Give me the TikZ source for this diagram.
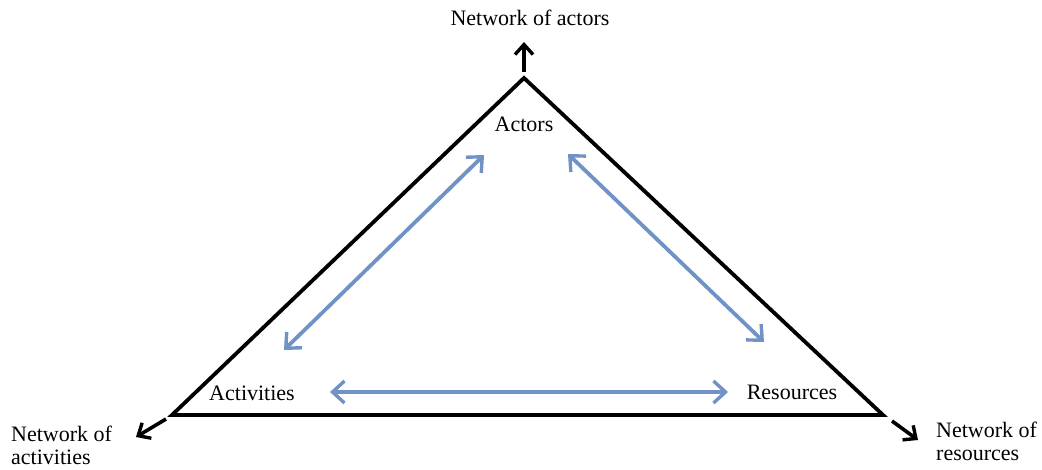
\documentclass[tikz,border=0pt]{standalone}
\usepackage{fontspec}
\setmainfont{Liberation Serif}
\usetikzlibrary{arrows.meta}
\definecolor{linkblue}{RGB}{112,146,196}
\tikzset{
  edge/.style={line width=3.8pt, line cap=round, line join=miter},
  outarrow/.style={line width=3.6pt, -{Straight Barb[length=10pt,width=18pt,line width=3.4pt]}},
  link/.style={linkblue, line width=3.8pt, {Straight Barb[length=12pt,width=22pt,line width=3.4pt]}-{Straight Barb[length=12pt,width=22pt,line width=3.4pt]}},
  lbl/.style={font=\fontsize{22}{23}\selectfont, inner sep=0pt, align=left}
}
\begin{document}
\begin{tikzpicture}[x=1pt,y=-1pt]
\useasboundingbox (0,0) rectangle (1042,470);
% triangle corners
\coordinate (apex) at (524,78);
\coordinate (bl) at (172,415);
\coordinate (br) at (883,415);
\draw[edge] (apex) -- (bl) -- (br) -- cycle;
% outward arrows
\coordinate (a1) at (524,72);
\coordinate (a2) at (524,42);
\coordinate (b1) at (166,419);
\coordinate (b2) at (136,437);
\coordinate (c1) at (892,421);
\coordinate (c2) at (918,440);
\draw[outarrow] (a1) -- (a2);
\draw[outarrow] (b1) -- (b2);
\draw[outarrow] (c1) -- (c2);
% labels
\node[lbl] (netact) at (530,18) {Network of actors};
\node[lbl] (actors) at (524,124) {Actors};
\node[lbl] (activities) at (252,393) {Activities};
\node[lbl] (resources) at (792,392) {Resources};
\node[lbl, anchor=west] (netactiv) at (11,445) {Network of\\activities};
\node[lbl, anchor=west] (netres) at (936,441) {Network of\\resources};
% blue links
\coordinate (l1) at (284,350);
\coordinate (l2) at (484,155);
\coordinate (r1) at (568,154);
\coordinate (r2) at (764,342);
\coordinate (m1) at (330,392);
\coordinate (m2) at (728,392);
\draw[link] (l1) -- (l2);
\draw[link] (r1) -- (r2);
\draw[link] (m1) -- (m2);
\end{tikzpicture}
\end{document}
